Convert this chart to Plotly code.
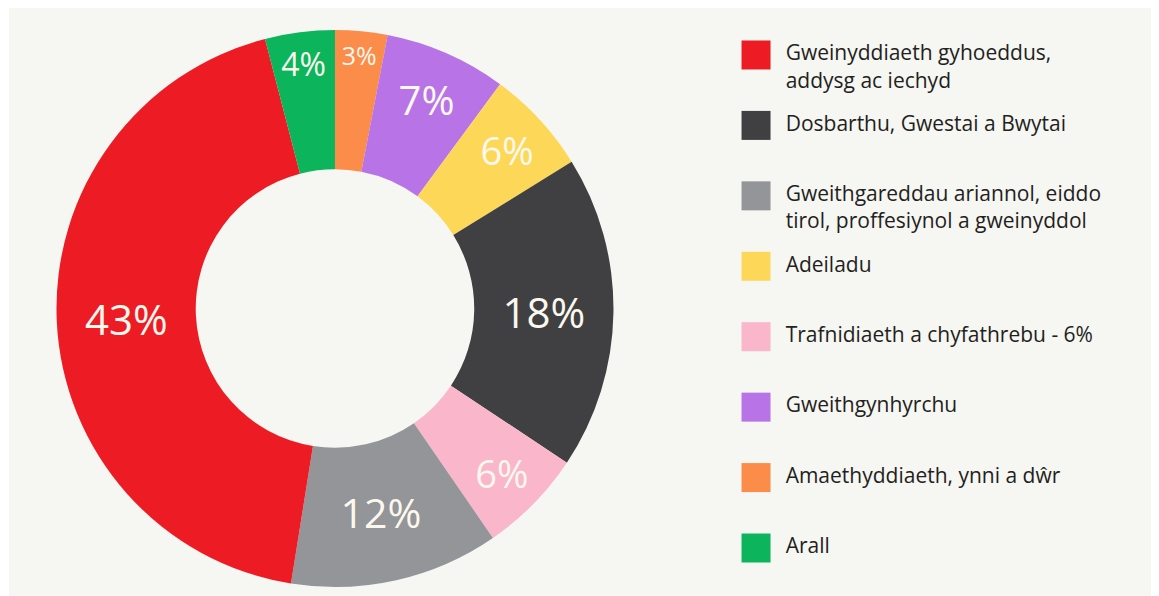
import plotly.graph_objects as go

# Legend order (as shown on the right)
categories = [
    "Gweinyddiaeth gyhoeddus,<br>addysg ac iechyd",
    "Dosbarthu, Gwestai a Bwytai",
    "Gweithgareddau ariannol, eiddo<br>tirol, proffesiynol a gweinyddol",
    "Adeiladu",
    "Trafnidiaeth a chyfathrebu - 6%",
    "Gweithgynhyrchu",
    "Amaethyddiaeth, ynni a dŵr",
    "Arall",
]
shares = [43, 18, 12, 6, 6, 7, 3, 4]
colors = ["#ed1c24", "#404042", "#939598", "#fdd858", "#fab6ca", "#b874e7", "#fc8c4a", "#0cb45c"]
label_sizes = [42, 42, 41, 38, 38, 40, 32, 32]

# Clockwise order of slices starting at 12 o'clock (indices into categories)
pie_order = [6, 5, 3, 1, 4, 2, 0, 7]

BG = "#f6f6f3"
TXT = "#231f20"


def legend_text(c):
    lines = ["\u2002" + s for s in c.split("<br>")]
    if len(lines) > 1:
        # pad with a blank line on top so the swatch aligns with the first line
        lines = ["\u2002"] + lines
    return "<br>".join(lines)


fig = go.Figure()

fig.add_trace(go.Pie(
    labels=[categories[i] for i in pie_order],
    values=[shares[i] for i in pie_order],
    marker=dict(colors=[colors[i] for i in pie_order], line=dict(width=0)),
    hole=0.5,
    sort=False,
    direction="clockwise",
    rotation=0,
    texttemplate="%{value}%",
    textposition="inside",
    insidetextorientation="horizontal",
    textfont=dict(family="Open Sans, sans-serif", color="#fbf8ee",
                  size=[label_sizes[i] for i in pie_order]),
    domain=dict(x=[0.0410, 0.5220], y=[0.0285, 0.9631]),
    showlegend=False,
    hoverinfo="skip",
))

# Legend drawn as a scatter of square swatches with labels
legend_pos = list(range(len(categories)))
fig.add_trace(go.Scatter(
    x=[0] * len(categories),
    y=legend_pos,
    mode="markers+text",
    marker=dict(symbol="square", size=29, color=colors, line=dict(width=0)),
    text=[legend_text(c) for c in categories],
    textposition="middle right",
    textfont=dict(family="Open Sans, sans-serif", size=21, color=TXT),
    cliponaxis=False,
    showlegend=False,
    hoverinfo="skip",
    xaxis="x", yaxis="y",
))

fig.update_layout(
    width=1159, height=596,
    paper_bgcolor="white",
    plot_bgcolor=BG,
    margin=dict(l=1, t=0, r=0, b=0),
    xaxis=dict(domain=[0.6451, 1.0], range=[0, 1], visible=False, fixedrange=True),
    yaxis=dict(domain=[0, 1], range=[7.795, -0.667], visible=False, fixedrange=True),
    shapes=[dict(type="rect", xref="paper", yref="paper", x0=0, x1=1, y0=0, y1=1,
                 fillcolor=BG, line=dict(width=0), layer="below")],
)

fig.write_html("out.html")
